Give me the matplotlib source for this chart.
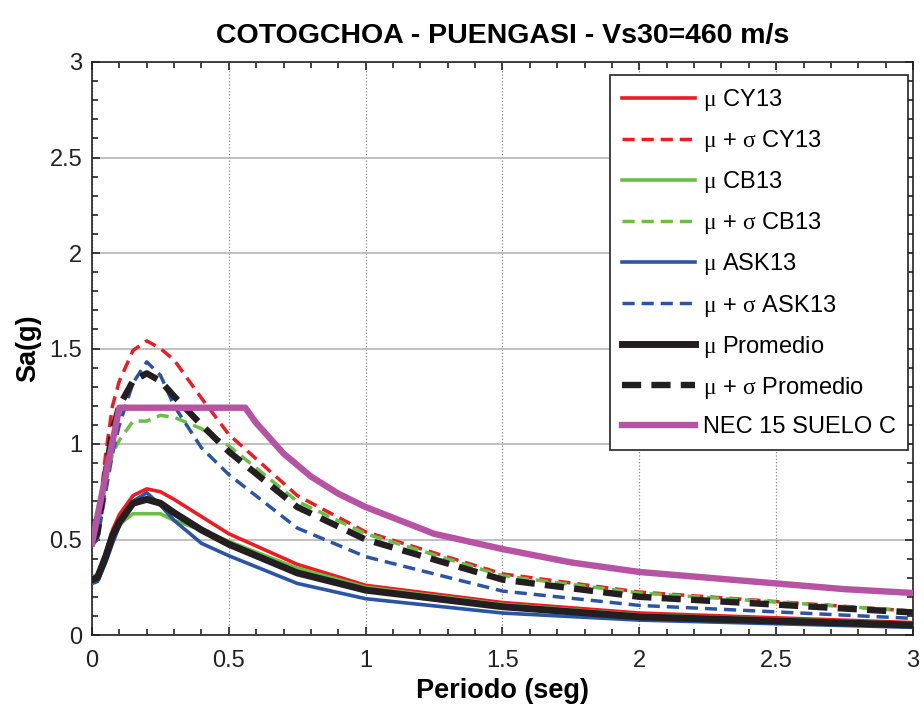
#!/usr/bin/env python3
# -*- coding: utf-8 -*-
"""
Espectros de respuesta - COTOGCHOA - PUENGASI (Vs30=460 m/s)
"""
import matplotlib
matplotlib.use("Agg")
import matplotlib.pyplot as plt
from matplotlib.ticker import MultipleLocator

plt.rcParams["font.family"] = ["Liberation Sans", "DejaVu Sans"]
plt.rcParams["mathtext.fontset"] = "custom"
plt.rcParams["mathtext.it"] = "Liberation Serif"
plt.rcParams["mathtext.rm"] = "Liberation Serif"

# ================= datos =================
periodos = [0, 0.02, 0.05, 0.075, 0.1, 0.15, 0.2, 0.25, 0.3, 0.4, 0.5, 0.75, 1.0, 1.5, 2.0, 3.0]

cy13_mu = [0.30, 0.31, 0.43, 0.55, 0.63, 0.73, 0.765, 0.75, 0.71, 0.62, 0.53, 0.37, 0.26, 0.17, 0.115, 0.065]
cy13_sig = [0.50, 0.55, 0.95, 1.20, 1.33, 1.49, 1.54, 1.50, 1.44, 1.24, 1.05, 0.73, 0.54, 0.32, 0.225, 0.125]

cb13_mu = [0.30, 0.32, 0.42, 0.52, 0.58, 0.635, 0.635, 0.635, 0.60, 0.55, 0.49, 0.35, 0.25, 0.16, 0.105, 0.06]
cb13_sig = [0.50, 0.53, 0.80, 0.95, 1.02, 1.12, 1.12, 1.15, 1.14, 1.08, 0.99, 0.70, 0.53, 0.31, 0.22, 0.125]

ask13_mu = [0.27, 0.28, 0.38, 0.48, 0.57, 0.70, 0.745, 0.68, 0.60, 0.48, 0.415, 0.27, 0.19, 0.115, 0.078, 0.04]
ask13_sig = [0.47, 0.50, 0.75, 0.95, 1.10, 1.32, 1.43, 1.36, 1.20, 0.98, 0.84, 0.56, 0.41, 0.23, 0.155, 0.087]

prom_mu = [0.29, 0.30, 0.41, 0.52, 0.59, 0.69, 0.71, 0.69, 0.64, 0.55, 0.475, 0.325, 0.235, 0.148, 0.095, 0.052]
prom_sig = [0.49, 0.53, 0.85, 1.07, 1.20, 1.33, 1.37, 1.33, 1.25, 1.10, 0.96, 0.67, 0.50, 0.29, 0.20, 0.118]

nec_T = [0, 0.1, 0.56, 0.6, 0.7, 0.8, 0.9, 1.0, 1.25, 1.5, 1.75, 2.0, 2.25, 2.5, 2.75, 3.0]
nec_sa = [0.48, 1.19, 1.19, 1.11, 0.95, 0.83, 0.74, 0.67, 0.53, 0.45, 0.38, 0.33, 0.30, 0.27, 0.24, 0.22]

ticks = [0, 0.5, 1, 1.5, 2, 2.5, 3]
tick_labels = ["0", "0.5", "1", "1.5", "2", "2.5", "3"]

ROJO = "#ed1c24"
VERDE = "#6abd45"
AZUL = "#2b54a5"
NEGRO = "#231f20"
MAGENTA = "#b653a3"
# =========================================

fig = plt.figure(figsize=(9.24, 7.13), dpi=100)
ax = fig.add_axes([92 / 924, 78 / 713, 821 / 924, 573 / 713])

# ---- curvas ----
ax.plot(periodos, cy13_mu, color=ROJO, lw=2.6, label=r"$\mu$ CY13", zorder=4)
ax.plot(periodos, cy13_sig, color=ROJO, lw=2.5, ls=(0, (3.5, 2.0)),
        label=r"$\mu$ + $\sigma$ CY13", zorder=4)
ax.plot(periodos, cb13_mu, color=VERDE, lw=2.6, label=r"$\mu$ CB13", zorder=4)
ax.plot(periodos, cb13_sig, color=VERDE, lw=2.5, ls=(0, (3.5, 2.0)),
        label=r"$\mu$ + $\sigma$ CB13", zorder=4)
ax.plot(periodos, ask13_mu, color=AZUL, lw=2.6, label=r"$\mu$ ASK13", zorder=4)
ax.plot(periodos, ask13_sig, color=AZUL, lw=2.5, ls=(0, (3.5, 2.0)),
        label=r"$\mu$ + $\sigma$ ASK13", zorder=4)
ax.plot(periodos, prom_mu, color=NEGRO, lw=5.0, label=r"$\mu$ Promedio", zorder=5)
ax.plot(periodos, prom_sig, color=NEGRO, lw=4.6, ls=(0, (3.0, 1.6)),
        label=r"$\mu$ + $\sigma$ Promedio", zorder=5)
ax.plot(nec_T, nec_sa, color=MAGENTA, lw=4.6, label="NEC 15 SUELO C", zorder=6)

# ---- ejes ----
ax.set_xlim(0, 3)
ax.set_ylim(0, 3)
ax.set_xticks(ticks)
ax.set_xticklabels(tick_labels)
ax.set_yticks(ticks)
ax.set_yticklabels(tick_labels)
ax.xaxis.set_minor_locator(MultipleLocator(0.1))
ax.yaxis.set_minor_locator(MultipleLocator(0.1))
ax.tick_params(which="both", direction="in", top=True, right=True,
               labelsize=17, colors="#222222")
ax.tick_params(which="major", length=6, width=1.2)
ax.tick_params(which="minor", length=4, width=1.2)
ax.tick_params(axis="x", which="major", pad=11)
ax.tick_params(axis="y", which="major", pad=7)

ax.grid(True, axis="y", which="major", color="#b5b5b5", lw=1.2, ls="-", zorder=0)
ax.grid(True, axis="x", which="major", color="#888888", lw=0.9, ls=":", zorder=0)
for s in ax.spines.values():
    s.set_color("#222222")
    s.set_linewidth(1.2)

ax.set_xlabel("Periodo (seg)", fontsize=19.5, fontweight="bold", labelpad=4)
ax.set_ylabel("Sa(g)", fontsize=19.5, fontweight="bold", labelpad=6)
ax.set_title("COTOGCHOA - PUENGASI - Vs30=460 m/s", fontsize=20.5,
             fontweight="bold", pad=14)

# ---- leyenda ----
leg = ax.legend(loc="upper right", bbox_to_anchor=(0.994, 0.977), borderaxespad=0,
                fontsize=17, handlelength=3.1, labelspacing=0.64, handletextpad=0.35,
                borderpad=0.5, fancybox=False, framealpha=1, edgecolor="#222222")
leg.get_frame().set_linewidth(1.2)
leg.set_zorder(10)

fig.savefig("out.png", dpi=100, facecolor="white")
